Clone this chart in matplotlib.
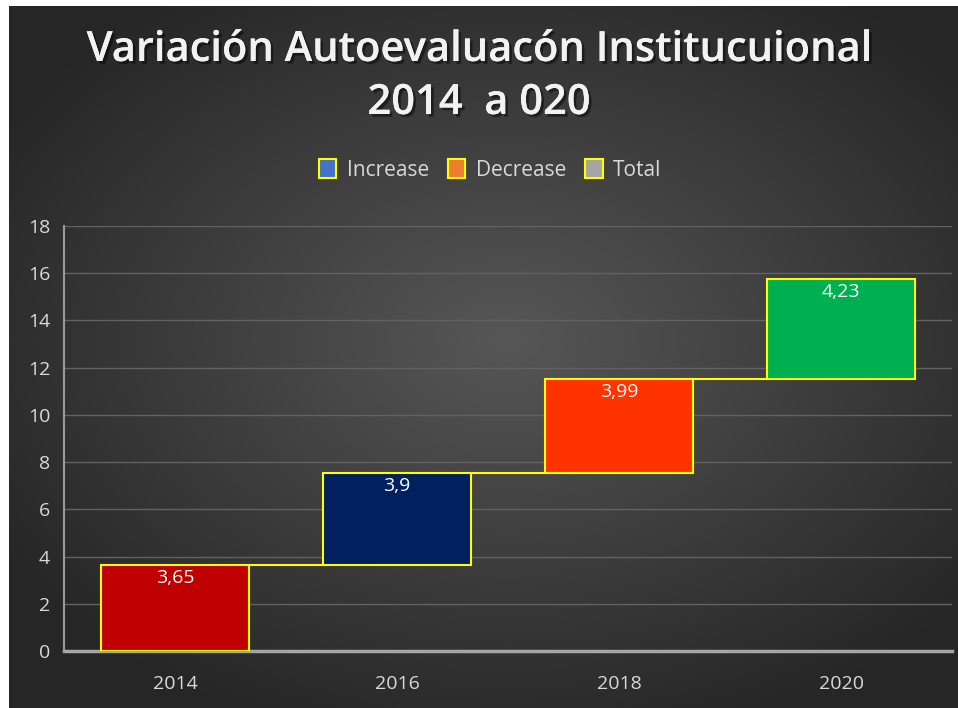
import numpy as np
import matplotlib
matplotlib.use('Agg')
import matplotlib.pyplot as plt
import matplotlib.patheffects as pe
from matplotlib.patches import Patch

years = ['2014', '2016', '2018', '2020']
values = [3.65, 3.9, 3.99, 4.23]
labels = ['3,65', '3,9', '3,99', '4,23']
bar_colors = ['#C00000', '#002060', '#FF3300', '#00B050']
legend_names = ['Increase', 'Decrease', 'Total']
legend_colors = ['#4472C4', '#ED7D31', '#A5A5A5']

plt.rcParams['font.family'] = ['Open Sans', 'DejaVu Sans']
yellow = '#FFFF00'

fig = plt.figure(figsize=(9.58, 7.08), dpi=100)
fig.patch.set_facecolor('white')

# dark radial gradient background
bg = fig.add_axes([9 / 958, 0, 949 / 958, 702 / 708])
yy, xx = np.mgrid[-1:1:350j, -1:1:475j]
r = np.sqrt((xx - 0.05) ** 2 + ((yy + 0.05) * 1.05) ** 2)
shade = 0.34 - 0.19 * np.clip(r / 1.25, 0, 1)
img = np.dstack([shade, shade, shade])
bg.imshow(img, aspect='auto', interpolation='bilinear')
bg.axis('off')

ax = fig.add_axes([64 / 958, 57 / 708, 888 / 958, 425 / 708])
ax.set_facecolor('none')

x = np.arange(len(years))
tops = np.cumsum(values)
bottoms = tops - np.array(values)
w = 0.667
ax.bar(x, values, bottom=bottoms, width=w, color=bar_colors,
       edgecolor=yellow, linewidth=1.5, zorder=3)
for i in range(len(years) - 1):
    ax.plot([x[i] + w / 2, x[i + 1] - w / 2], [tops[i], tops[i]],
            color=yellow, lw=1.5, zorder=3)
for i, lab in enumerate(labels):
    ax.annotate(lab, (x[i], tops[i]), xytext=(0, -3), textcoords='offset points',
                ha='center', va='top', color='white', fontsize=14, zorder=4)

ax.set_xlim(-0.5, 3.5)
ax.set_ylim(0, 18)
ax.set_yticks(range(0, 19, 2))
ax.set_xticks(x)
ax.set_xticklabels(years)
ax.yaxis.grid(True, color='#626262', lw=1, zorder=0)
ax.set_axisbelow(True)
ax.tick_params(length=0, colors='#d9d9d9', labelsize=14)
ax.tick_params(axis='x', pad=17)
ax.tick_params(axis='y', pad=10)
for s in ['top', 'right']:
    ax.spines[s].set_visible(False)
ax.spines['left'].set_color('#9a9a9a')
ax.spines['left'].set_linewidth(1.5)
ax.spines['bottom'].set_color('#a6a6a6')
ax.spines['bottom'].set_linewidth(2.5)

handles = [Patch(facecolor=c, edgecolor=yellow, linewidth=1.5) for c in legend_colors]
fig.legend(handles, legend_names, loc='center', bbox_to_anchor=(490 / 958, 1 - 170 / 708),
           ncol=3, frameon=False, handlelength=0.85, handleheight=1.0, handletextpad=0.5,
           columnspacing=0.9, fontsize=15, labelcolor='#d9d9d9')

shadow = [pe.withSimplePatchShadow(offset=(2, -2), shadow_rgbFace='black', alpha=0.45), pe.Normal()]
fig.text(0.5, 1 - 50 / 708, 'Variación Autoevaluacón Institucuional', ha='center', va='center',
         fontsize=30, fontweight='semibold', color='#f2f2f2', path_effects=shadow)
fig.text(0.5, 1 - 103 / 708, '2014  a 020', ha='center', va='center',
         fontsize=30, fontweight='semibold', color='#f2f2f2', path_effects=shadow)

fig.savefig('out.png', dpi=100, facecolor=fig.get_facecolor())
